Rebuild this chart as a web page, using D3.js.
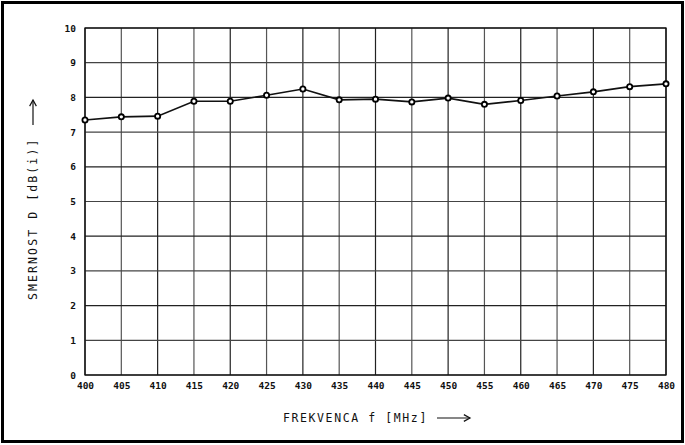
<!DOCTYPE html>
<html>
<head>
<meta charset="utf-8">
<script src="https://cdn.jsdelivr.net/npm/d3@7"></script>
<style>
  body { margin: 0; background: #fff; }
  text { font-family: "DejaVu Sans Mono", monospace; fill: #111; }
</style>
</head>
<body>
<div id="chart-area"></div>
<script>
// data
const freqs = [400, 405, 410, 415, 420, 425, 430, 435, 440, 445, 450, 455, 460, 465, 470, 475, 480];
const gain = [7.35, 7.44, 7.46, 7.89, 7.89, 8.06, 8.24, 7.93, 7.95, 7.87, 7.98, 7.80, 7.91, 8.04, 8.16, 8.31, 8.39];
const xTicks = [400, 405, 410, 415, 420, 425, 430, 435, 440, 445, 450, 455, 460, 465, 470, 475, 480];
const yTicks = [0, 1, 2, 3, 4, 5, 6, 7, 8, 9, 10];

const W = 685, H = 445;
const MARGIN = { LEFT: 85, RIGHT: 19, TOP: 28, BOTTOM: 70 };
const WIDTH = W - MARGIN.LEFT - MARGIN.RIGHT;
const HEIGHT = H - MARGIN.TOP - MARGIN.BOTTOM;

const svg = d3.select("#chart-area").append("svg")
  .attr("width", W)
  .attr("height", H);

// outer frame
svg.append("rect")
  .attr("x", 2.5).attr("y", 2.5)
  .attr("width", W - 5).attr("height", H - 6)
  .attr("fill", "none").attr("stroke", "#000").attr("stroke-width", 3);

const g = svg.append("g")
  .attr("transform", `translate(${MARGIN.LEFT}, ${MARGIN.TOP})`);

const x = d3.scaleLinear().domain([400, 480]).range([0, WIDTH]);
const y = d3.scaleLinear().domain([0, 10]).range([HEIGHT, 0]);

// grid
g.selectAll(".vgrid").data(xTicks).enter().append("line")
  .attr("x1", d => x(d)).attr("x2", d => x(d))
  .attr("y1", 0).attr("y2", HEIGHT)
  .attr("stroke", (d, i) => i % 2 ? "#555" : "#222")
  .attr("stroke-width", 1.2);

g.selectAll(".hgrid").data(yTicks).enter().append("line")
  .attr("x1", 0).attr("x2", WIDTH)
  .attr("y1", d => y(d)).attr("y2", d => y(d))
  .attr("stroke", (d, i) => i % 2 ? "#444" : "#222")
  .attr("stroke-width", 1.2);

g.append("rect")
  .attr("width", WIDTH).attr("height", HEIGHT)
  .attr("fill", "none").attr("stroke", "#111").attr("stroke-width", 1.3);

// axes (labels only, ticks drawn by grid)
const xAxis = g.append("g")
  .attr("transform", `translate(0, ${HEIGHT})`)
  .call(d3.axisBottom(x).tickValues(xTicks).tickSize(0).tickPadding(7).tickFormat(d3.format("d")));
const yAxis = g.append("g")
  .call(d3.axisLeft(y).tickValues(yTicks).tickSize(0).tickPadding(9).tickFormat(d3.format("d")));
[xAxis, yAxis].forEach(a => {
  a.select(".domain").remove();
  a.selectAll("text")
    .attr("font-family", "DejaVu Sans Mono, monospace")
    .attr("font-size", "9.5px")
    .attr("font-weight", "700")
    .attr("fill", "#111");
});

// data line
const line = d3.line().x((d, i) => x(freqs[i])).y(d => y(d));
g.append("path")
  .datum(gain)
  .attr("d", line)
  .attr("fill", "none")
  .attr("stroke", "#111")
  .attr("stroke-width", 1.6);

g.selectAll(".pt").data(gain).enter().append("circle")
  .attr("cx", (d, i) => x(freqs[i]))
  .attr("cy", d => y(d))
  .attr("r", 2.6)
  .attr("fill", "#fff")
  .attr("stroke", "#000")
  .attr("stroke-width", 1.8);

// axis titles
svg.append("text")
  .attr("x", 283).attr("y", 422)
  .attr("font-size", "11.5px")
  .attr("letter-spacing", "1.6px")
  .text("FREKVENCA f [MHz]");

svg.append("text")
  .attr("transform", "translate(37, 300) rotate(-90)")
  .attr("font-size", "11.5px")
  .attr("letter-spacing", "2.1px")
  .text("SMERNOST D [dB(i)]");

// arrows
const arrow = (x1, y1, x2, y2) => {
  svg.append("line")
    .attr("x1", x1).attr("y1", y1).attr("x2", x2).attr("y2", y2)
    .attr("stroke", "#111").attr("stroke-width", 1.2);
  const a = Math.atan2(y2 - y1, x2 - x1), L = 7, s = 0.5;
  svg.append("path")
    .attr("d", `M${x2 - L * Math.cos(a - s)},${y2 - L * Math.sin(a - s)}L${x2},${y2}L${x2 - L * Math.cos(a + s)},${y2 - L * Math.sin(a + s)}`)
    .attr("fill", "none").attr("stroke", "#111").attr("stroke-width", 1.2);
};
arrow(437, 418, 470, 418);
arrow(33, 125, 33, 100);
</script>
</body>
</html>
